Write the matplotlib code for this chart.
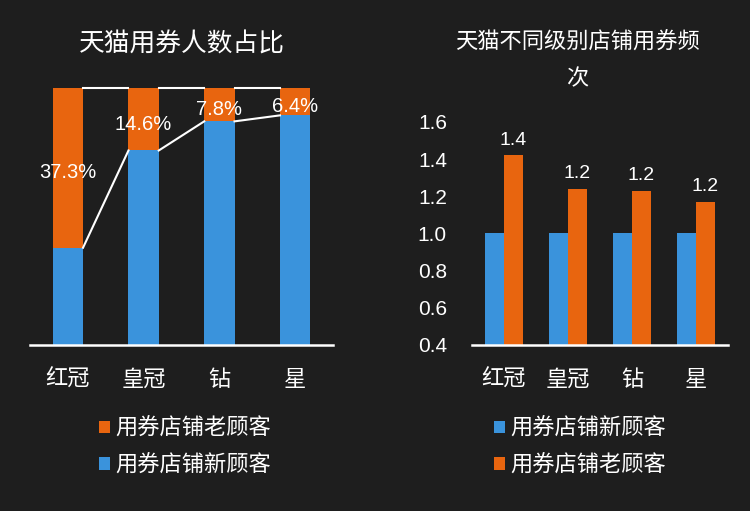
import matplotlib
matplotlib.use("Agg")
import matplotlib.pyplot as plt
import numpy as np

plt.rcParams['font.family'] = ['Liberation Sans', 'Noto Sans CJK SC', 'DejaVu Sans']

categories = ['红冠', '皇冠', '钻', '星']
share_new = [62.7, 85.4, 92.2, 93.6]   # 用券店铺新顾客 (%)
share_old = [37.3, 14.6, 7.8, 6.4]     # 用券店铺老顾客 (%)
freq_new = [1.0, 1.0, 1.0, 1.0]
freq_old = [1.42, 1.24, 1.23, 1.17]

title_left = '天猫用券人数占比'
title_right = '天猫不同级别店铺用券频\n次'
label_new = '用券店铺新顾客'
label_old = '用券店铺老顾客'

BG = '#1e1e1e'
BLUE = '#3a93dc'
ORANGE = '#e8650f'
WHITE = '#ffffff'

fig = plt.figure(figsize=(7.5, 5.11), dpi=100, facecolor=BG)

# ---------- left: stacked share ----------
axL = fig.add_axes([0.04, 0.3249, 0.404, 0.503])
axL.set_facecolor(BG)
x = np.arange(len(categories))
bw = 0.4
new_f = np.array(share_new) / 100
old_f = np.array(share_old) / 100
axL.bar(x, new_f, bw, color=BLUE, label=label_new, zorder=2)
axL.bar(x, old_f, bw, bottom=new_f, color=ORANGE, label=label_old, zorder=2)
top = new_f + old_f
for i in range(len(x) - 1):
    axL.plot([x[i] + bw / 2, x[i + 1] - bw / 2], [new_f[i], new_f[i + 1]],
             color=WHITE, lw=1.5, zorder=3, clip_on=False)
    axL.plot([x[i] + bw / 2, x[i + 1] - bw / 2], [top[i], top[i + 1]],
             color=WHITE, lw=1.5, zorder=3, clip_on=False)
for i, v in enumerate(share_old):
    axL.annotate(f'{v:.1f}%', (x[i], new_f[i] + old_f[i] / 2), xytext=(0, -3.5),
                 textcoords='offset points', ha='center', va='center',
                 color=WHITE, fontsize=14.5, zorder=4)
axL.set_xlim(-0.5, len(categories) - 0.5)
axL.set_ylim(0.4, 1.0)
axL.set_yticks([])
axL.set_xticks(x)
axL.set_xticklabels(categories, fontsize=16, color=WHITE)
axL.tick_params(axis='x', length=0, pad=18)
for s in ['left', 'right', 'top']:
    axL.spines[s].set_visible(False)
axL.spines['bottom'].set_color(WHITE)
axL.spines['bottom'].set_linewidth(1.8)
hL, lL = axL.get_legend_handles_labels()
legL = fig.legend(hL[::-1], lL[::-1], loc='upper left', bbox_to_anchor=(0.132, 0.181),
                  frameon=False, fontsize=16, handlelength=0.5, handleheight=0.5,
                  handletextpad=0.25, labelspacing=0.68, borderpad=0, borderaxespad=0)
for t in legL.get_texts():
    t.set_color(WHITE)
fig.text(0.2427, 0.912, title_left, ha='center', va='center', color=WHITE, fontsize=18.5)

# ---------- right: frequency ----------
axR = fig.add_axes([0.6293, 0.3249, 0.3413, 0.4364])
axR.set_facecolor(BG)
bw2 = 0.29
axR.bar(x - bw2 / 2, freq_new, bw2, color=BLUE, label=label_new, zorder=2)
bars_old = axR.bar(x + bw2 / 2, freq_old, bw2, color=ORANGE, label=label_old, zorder=2)
for b, v in zip(bars_old, freq_old):
    axR.annotate(f'{v:.1f}', (b.get_x() + b.get_width() / 2, v), xytext=(0, 11),
                 textcoords='offset points', ha='center', va='center',
                 color=WHITE, fontsize=14)
axR.set_xlim(-0.5, len(categories) - 0.5)
axR.set_ylim(0.4, 1.6)
axR.set_yticks(np.arange(0.4, 1.61, 0.2))
axR.set_yticklabels([f'{v:.1f}' for v in np.arange(0.4, 1.61, 0.2)], fontsize=15, color=WHITE)
axR.tick_params(axis='y', length=0, pad=18)
axR.set_xticks(x)
axR.set_xticklabels(categories, fontsize=16, color=WHITE)
axR.tick_params(axis='x', length=0, pad=18)
for s in ['left', 'right', 'top']:
    axR.spines[s].set_visible(False)
axR.spines['bottom'].set_color(WHITE)
axR.spines['bottom'].set_linewidth(1.8)
hR, lR = axR.get_legend_handles_labels()
legR = fig.legend(hR, lR, loc='upper left', bbox_to_anchor=(0.658, 0.181),
                  frameon=False, fontsize=16, handlelength=0.5, handleheight=0.5,
                  handletextpad=0.25, labelspacing=0.68, borderpad=0, borderaxespad=0)
for t in legR.get_texts():
    t.set_color(WHITE)
fig.text(0.7693, 0.8796, title_right, ha='center', va='center', ma='center',
         color=WHITE, fontsize=16, linespacing=1.97)

fig.savefig('out.png', dpi=100, facecolor=BG)
